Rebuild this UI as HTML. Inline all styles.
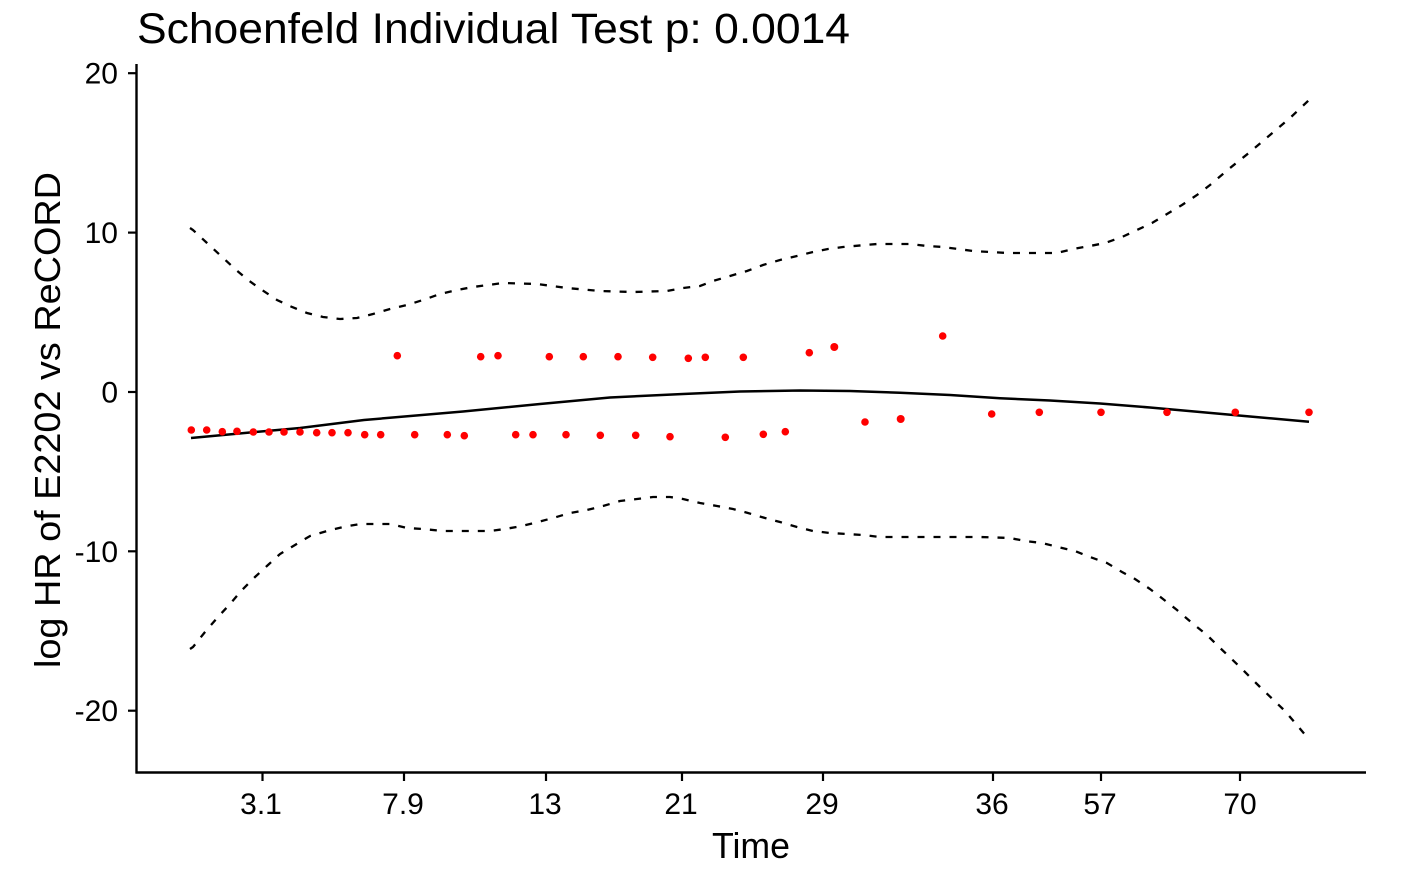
<!DOCTYPE html>
<html>
<head>
<meta charset="utf-8">
<style>
  html, body { margin: 0; padding: 0; background: #ffffff; }
  svg { display: block; }
  text { font-family: "Liberation Sans", Arial, sans-serif; fill: #000; }
</style>
</head>
<body>
<svg width="1410" height="870" viewBox="0 0 1410 870" xmlns="http://www.w3.org/2000/svg">
  <rect x="0" y="0" width="1410" height="870" fill="#ffffff"/>

  <text x="137" y="43" font-size="43" textLength="713" lengthAdjust="spacingAndGlyphs">Schoenfeld Individual Test p: 0.0014</text>

  <line x1="136.5" y1="64" x2="136.5" y2="773.5" stroke="#000" stroke-width="2.4"/>
  <line x1="135.5" y1="772.5" x2="1366" y2="772.5" stroke="#000" stroke-width="2.4"/>

  <g stroke="#000" stroke-width="2.2">
    <line x1="128" y1="73.2" x2="136" y2="73.2"/>
    <line x1="128" y1="232.6" x2="136" y2="232.6"/>
    <line x1="128" y1="392" x2="136" y2="392"/>
    <line x1="128" y1="551.3" x2="136" y2="551.3"/>
    <line x1="128" y1="710.7" x2="136" y2="710.7"/>
  </g>
  <g font-size="30" text-anchor="end">
    <text x="118" y="83.5">20</text>
    <text x="118" y="243">10</text>
    <text x="118" y="402.5">0</text>
    <text x="118" y="561.8">-10</text>
    <text x="118" y="721.2">-20</text>
  </g>

  <g stroke="#000" stroke-width="2.2">
    <line x1="262.5" y1="773" x2="262.5" y2="781"/>
    <line x1="404" y1="773" x2="404" y2="781"/>
    <line x1="546" y1="773" x2="546" y2="781"/>
    <line x1="682" y1="773" x2="682" y2="781"/>
    <line x1="823" y1="773" x2="823" y2="781"/>
    <line x1="993" y1="773" x2="993" y2="781"/>
    <line x1="1101" y1="773" x2="1101" y2="781"/>
    <line x1="1240" y1="773" x2="1240" y2="781"/>
  </g>
  <g font-size="30" text-anchor="middle">
    <text x="261" y="814">3.1</text>
    <text x="403" y="814">7.9</text>
    <text x="545" y="814">13</text>
    <text x="681" y="814">21</text>
    <text x="822" y="814">29</text>
    <text x="992" y="814">36</text>
    <text x="1100" y="814">57</text>
    <text x="1240" y="814">70</text>
  </g>

  <text x="712" y="858" font-size="36" textLength="78" lengthAdjust="spacingAndGlyphs">Time</text>
  <text transform="translate(60,420) rotate(-90)" x="0" y="0" font-size="36" text-anchor="middle" textLength="496" lengthAdjust="spacingAndGlyphs">log HR of E2202 vs ReCORD</text>

  <polyline fill="none" stroke="#000" stroke-width="2.3" stroke-dasharray="7 9"
    points="190,228 193,230 207,243 220,255 235,269 248,280 262,290 277,300 292,307 307,313 323,317 340,319 357,318 373,314 390,309 407,305 423,300 440,294 457,290 473,287 503,283 537,284 567,288 600,291 633,292 667,291 683,288 700,286 713,281 730,276 747,271 763,265 780,260 797,256 813,252 828,249 843,247 877,244 910,244 927,246 943,247 973,251 1007,253 1040,253 1057,253 1073,249 1090,246 1105,243 1122,237 1137,230 1152,223 1167,214 1182,205 1197,195 1210,185 1230,168 1250,152 1270,135 1290,118 1309,100"/>

  <polyline fill="none" stroke="#000" stroke-width="2.3" stroke-dasharray="7 9"
    points="190,649 193,647 205,632 218,617 230,604 242,590 255,577 268,565 280,554 295,545 310,536 327,531 343,527 360,524 390,524 407,528 423,529 443,531 473,531 490,531 505,529 522,526 538,522 553,518 570,513 587,510 603,506 620,501 637,499 653,497 670,497 683,499 700,503 717,506 733,509 748,513 765,518 780,522 797,527 813,531 830,533 847,534 863,535 880,537 913,537 947,537 980,537 1010,538 1025,541 1042,543 1058,547 1075,551 1090,557 1107,563 1122,572 1135,579 1150,589 1163,599 1177,610 1192,623 1207,635 1217,645 1240,667 1260,687 1285,711 1307,737"/>

  <polyline fill="none" stroke="#000" stroke-width="2.5"
    points="191,438 250,432.5 300,428 364,420 463,411.5 540,404 610,397.5 683,394 740,391.5 800,390.5 850,391 900,392.7 950,395 1000,398.3 1050,400.5 1100,403.5 1150,407.5 1200,412 1250,416.5 1309,421.7"/>

  <g fill="#ff0000">
    <circle cx="191.3" cy="430" r="3.8"/>
    <circle cx="206.7" cy="430" r="3.8"/>
    <circle cx="222.3" cy="431.7" r="3.8"/>
    <circle cx="237" cy="431.3" r="3.8"/>
    <circle cx="253.3" cy="432" r="3.8"/>
    <circle cx="269" cy="432" r="3.8"/>
    <circle cx="284" cy="432" r="3.8"/>
    <circle cx="300" cy="432" r="3.8"/>
    <circle cx="316.7" cy="432.7" r="3.8"/>
    <circle cx="332" cy="432.7" r="3.8"/>
    <circle cx="348" cy="432.7" r="3.8"/>
    <circle cx="364.7" cy="434.7" r="3.8"/>
    <circle cx="380.7" cy="434.7" r="3.8"/>
    <circle cx="397.3" cy="355.7" r="3.8"/>
    <circle cx="414.7" cy="434.7" r="3.8"/>
    <circle cx="447.3" cy="434.7" r="3.8"/>
    <circle cx="464.3" cy="435.7" r="3.8"/>
    <circle cx="480.7" cy="356.7" r="3.8"/>
    <circle cx="498" cy="355.7" r="3.8"/>
    <circle cx="515.7" cy="434.7" r="3.8"/>
    <circle cx="533" cy="434.7" r="3.8"/>
    <circle cx="549.3" cy="356.7" r="3.8"/>
    <circle cx="566" cy="434.7" r="3.8"/>
    <circle cx="583.3" cy="356.7" r="3.8"/>
    <circle cx="600.3" cy="435.3" r="3.8"/>
    <circle cx="618" cy="356.7" r="3.8"/>
    <circle cx="635.7" cy="435.3" r="3.8"/>
    <circle cx="652.7" cy="357.3" r="3.8"/>
    <circle cx="670" cy="436.7" r="3.8"/>
    <circle cx="688.3" cy="358.3" r="3.8"/>
    <circle cx="705.3" cy="357.3" r="3.8"/>
    <circle cx="725.3" cy="437.3" r="3.8"/>
    <circle cx="743.3" cy="357.3" r="3.8"/>
    <circle cx="763.3" cy="434.3" r="3.8"/>
    <circle cx="785.3" cy="431.7" r="3.8"/>
    <circle cx="809.3" cy="352.7" r="3.8"/>
    <circle cx="834.3" cy="347" r="4"/>
    <circle cx="865" cy="422" r="3.8"/>
    <circle cx="900.7" cy="419" r="4"/>
    <circle cx="942.7" cy="336" r="3.8"/>
    <circle cx="991.7" cy="414" r="3.8"/>
    <circle cx="1039.3" cy="412.3" r="3.8"/>
    <circle cx="1101" cy="412.3" r="3.8"/>
    <circle cx="1167" cy="412.3" r="3.8"/>
    <circle cx="1235.3" cy="412.3" r="3.8"/>
    <circle cx="1309" cy="412.3" r="3.8"/>
  </g>
</svg>
</body>
</html>
